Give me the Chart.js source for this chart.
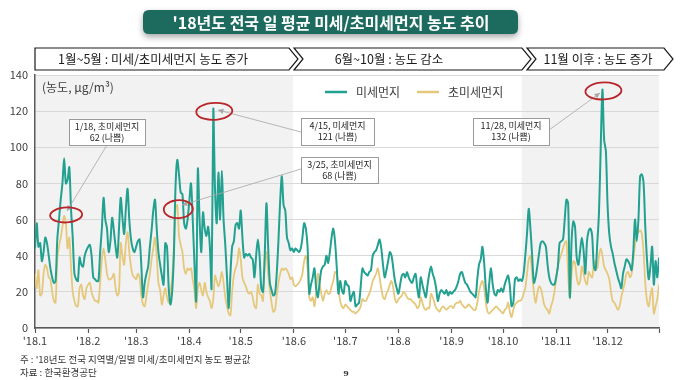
<!DOCTYPE html>
<html><head><meta charset="utf-8">
<script src="https://cdn.jsdelivr.net/npm/chart.js@4"></script>
<style>
html,body{margin:0;padding:0;background:#fff;}
canvas{display:block;}
</style></head>
<body>
<canvas id="c" width="680" height="380"></canvas>
<script>
const FONT = '"Noto Sans CJK KR", "Noto Sans", sans-serif';

// ---- data ----
const seriesNames = ['미세먼지', '초미세먼지'];
const monthLabels = ["'18.1","'18.2","'18.3","'18.4","'18.5","'18.6","'18.7","'18.8","'18.9","'18.10","'18.11","'18.12"];
const monthStartDays = [0,31,59,90,120,151,181,212,243,273,304,334];
const yTicks = [0,20,40,60,80,100,120,140];
const periodTitles = ['1월~5월 : 미세/초미세먼지 농도 증가', '6월~10월 : 농도 감소', '11월 이후 : 농도 증가'];

// daily PM10 (미세먼지), 2018-01-01 .. 2018-12-31
const pm10 = [
  /*Jan*/ 44,58,45,47,37,42,50,47,40,33,28,25,26,49,60,71,80,94,80,82,89,66,50,30,27,26,39,35,34,40,43,
  /*Feb*/ 45,46,40,28,27,26,26,42,55,72,60,55,42,48,61,54,45,39,55,72,61,52,66,77,60,49,44,42,
  /*Mar*/ 45,48,49,35,17,25,30,34,45,54,65,71,55,42,35,29,24,47,45,22,13,20,40,79,93,85,75,74,58,55,60,
  /*Apr*/ 70,80,60,36,15,88,60,42,64,55,51,56,45,22,121,77,58,86,60,87,60,46,28,11,30,45,48,57,58,55,
  /*May*/ 65,50,39,41,40,41,39,38,28,40,49,40,22,20,40,69,45,25,21,18,19,30,48,70,84,68,65,50,47,43,44,
  /*Jun*/ 42,44,43,42,44,50,58,55,45,19,24,28,33,22,17,25,32,34,35,40,36,42,50,55,48,34,19,26,21,19,
  /*Jul*/ 26,24,23,15,18,20,12,13,14,23,33,31,30,29,31,32,40,42,43,46,49,44,35,28,32,37,42,40,33,26,22,
  /*Aug*/ 19,24,29,30,28,31,28,26,25,28,30,22,17,28,24,20,17,24,30,34,30,27,22,15,19,21,20,19,21,18,20,
  /*Sep*/ 19,20,21,23,26,30,31,28,25,24,22,20,19,18,17,27,35,38,45,36,22,14,25,33,24,19,18,21,20,22,
  /*Oct*/ 20,24,27,29,23,12,14,27,28,26,27,26,30,40,52,66,55,40,25,28,34,41,47,48,47,45,35,28,25,24,24,
  /*Nov*/ 28,34,47,48,49,60,71,69,17,48,59,56,39,35,43,50,43,30,48,54,55,51,34,32,47,64,100,132,104,98,
  /*Dec*/ 68,52,45,41,36,32,28,25,22,30,34,38,37,35,32,42,60,48,60,84,85,80,56,38,27,34,45,24,37,28,39
];
// daily PM2.5 (초미세먼지)
const pm25 = [
  /*Jan*/ 30,22,32,18,19,30,35,33,28,27,20,15,14,38,45,50,56,62,58,44,50,34,20,15,12,12,22,24,18,16,22,
  /*Feb*/ 24,25,20,17,15,15,14,25,38,44,38,30,27,27,28,30,22,18,20,47,40,35,47,53,42,34,29,28,
  /*Mar*/ 27,30,28,18,13,12,18,24,30,38,44,50,40,25,21,13,18,22,17,14,20,28,45,66,68,51,46,42,33,30,33,
  /*Apr*/ 32,33,27,21,11,22,25,21,18,25,20,17,15,11,16,29,26,23,26,31,25,17,12,8,7,20,29,33,36,44,
  /*May*/ 38,28,25,23,20,19,20,17,12,11,24,19,18,15,36,42,30,21,14,9,10,18,25,30,33,32,33,32,30,27,28,
  /*Jun*/ 24,23,24,25,27,30,37,40,33,17,15,17,12,20,30,25,19,15,19,21,19,19,23,26,31,30,23,15,12,11,
  /*Jul*/ 13,12,11,10,9,9,8,9,10,12,16,15,15,17,19,22,26,28,30,33,28,22,17,16,19,21,24,26,22,16,14,
  /*Aug*/ 16,17,18,20,19,17,16,16,15,14,13,11,12,17,14,11,10,11,11,19,17,14,11,10,9,11,12,11,10,11,12,
  /*Sep*/ 12,11,13,14,14,15,13,12,11,12,13,12,11,10,10,14,20,24,26,22,14,9,8,9,10,11,12,11,10,9,
  /*Oct*/ 8,10,11,14,9,6,10,13,14,15,15,16,19,22,30,38,40,30,20,14,19,23,22,18,13,11,10,8,12,15,20,
  /*Nov*/ 27,34,38,41,44,47,48,30,16,30,37,36,28,24,26,34,30,26,24,31,29,28,35,37,33,40,44,40,34,32,
  /*Dec*/ 30,27,20,15,14,12,10,12,17,21,25,30,31,28,30,38,46,52,53,54,52,42,25,15,12,18,22,8,12,16,24
];
const seriesData = [pm10, pm25];

// highlighted days: day index, series index, date label
const callouts = [
  {day:17,  series:1, date:'1/18'},
  {day:104, series:0, date:'4/15'},
  {day:83,  series:1, date:'3/25'},
  {day:331, series:0, date:'11/28'}
];
// shaded periods (day ranges)
const shadeRanges = [[0,150.5],[284,364]];

// ---- styling / layout ----
const COLORS = ['#22a090', '#e5c87b'];
const calloutLayout = [
  {bx:69,  by:119, bw:76, bh:26, lx:107, ly:145, tx:67,  ty:211, ex:2, ey:-1, rx:16, ry:7.5},
  {bx:301, by:118, bw:73, bh:27, lx:301, ly:132, tx:218, ty:110, ex:1, ey:2,  rx:18, ry:8.5},
  {bx:301, by:157, bw:77, bh:26, lx:301, ly:169, tx:182, ty:205, ex:1, ey:4,  rx:14.5, ry:9},
  {bx:473, by:118, bw:76, bh:27, lx:549, ly:130, tx:600, ty:93,  ex:1, ey:1.5, rx:18, ry:8.5}
];

function roundRect(ctx,x,y,w,h,r){
  ctx.beginPath();
  ctx.moveTo(x+r,y); ctx.lineTo(x+w-r,y); ctx.quadraticCurveTo(x+w,y,x+w,y+r);
  ctx.lineTo(x+w,y+h-r); ctx.quadraticCurveTo(x+w,y+h,x+w-r,y+h);
  ctx.lineTo(x+r,y+h); ctx.quadraticCurveTo(x,y+h,x,y+h-r);
  ctx.lineTo(x,y+r); ctx.quadraticCurveTo(x,y,x+r,y); ctx.closePath();
}

const decor = {
  id:'decor',
  beforeDraw(chart){
    const {ctx, chartArea:a, scales:{x}} = chart;
    ctx.save();
    ctx.fillStyle = '#ffffff';
    ctx.fillRect(0,0,chart.width,chart.height);
    ctx.fillStyle = '#f2f2f2';
    shadeRanges.forEach(([s,e])=>{
      const x0 = x.getPixelForValue(s), x1 = x.getPixelForValue(e);
      ctx.fillRect(x0, a.top, x1-x0, a.bottom-a.top);
    });
    ctx.restore();
  },
  afterDraw(chart){
    const {ctx, scales:{x,y}} = chart;
    ctx.save();
    // title box
    ctx.save();
    ctx.shadowColor = 'rgba(0,0,0,0.35)'; ctx.shadowBlur = 6; ctx.shadowOffsetY = 3;
    roundRect(ctx,143,10,375,24,6);
    ctx.fillStyle = '#1d6b5e'; ctx.fill();
    ctx.restore();
    ctx.fillStyle = '#ffffff';
    ctx.font = 'bold 16px ' + FONT;
    ctx.textAlign = 'center'; ctx.textBaseline = 'middle';
    ctx.fillText("'18년도 전국 일 평균 미세/초미세먼지 농도 추이", 331, 22.5);

    // period banners (chevrons)
    const top = 48, bot = 70, mid = 59;
    const shapes = [
      [[35,top],[289,top],[298,mid],[289,bot],[35,bot]],
      [[294,top],[522,top],[531,mid],[522,bot],[294,bot],[303,mid]],
      [[527,top],[664,top],[673,mid],[664,bot],[527,bot],[536,mid]]
    ];
    const textX = [153, 389, 598];
    shapes.forEach((pts,i)=>{
      ctx.beginPath();
      pts.forEach((p,j)=> j? ctx.lineTo(p[0],p[1]) : ctx.moveTo(p[0],p[1]));
      ctx.closePath();
      ctx.fillStyle = '#ffffff'; ctx.fill();
      ctx.lineWidth = 1.2; ctx.strokeStyle = '#1a1a1a'; ctx.stroke();
      ctx.fillStyle = '#1a1a1a';
      ctx.font = '12.5px ' + FONT;
      ctx.fillText(periodTitles[i], textX[i], mid+0.5);
    });

    // unit label
    ctx.textAlign = 'left';
    ctx.fillStyle = '#404040';
    ctx.font = '12px ' + FONT;
    ctx.fillText('(농도, μg/m³)', 42, 87);

    // legend
    const legX = [325, 417];
    chart.data.datasets.forEach((ds,i)=>{
      ctx.strokeStyle = ds.borderColor; ctx.lineWidth = 2.5;
      ctx.beginPath(); ctx.moveTo(legX[i],92); ctx.lineTo(legX[i]+22,92); ctx.stroke();
      ctx.fillStyle = '#404040'; ctx.font = '12px ' + FONT;
      ctx.fillText(ds.label, legX[i]+31, 92);
    });

    // callouts
    callouts.forEach((c,i)=>{
      const L = calloutLayout[i];
      const v = seriesData[c.series][c.day];
      const px = x.getPixelForValue(c.day), py = y.getPixelForValue(v);
      // leader line
      ctx.strokeStyle = '#a6a6a6'; ctx.lineWidth = 0.8;
      ctx.beginPath(); ctx.moveTo(L.lx, L.ly); ctx.lineTo(L.tx, L.ty); ctx.stroke();
      const ang = Math.atan2(L.ty-L.ly, L.tx-L.lx);
      ctx.fillStyle = '#a6a6a6';
      ctx.beginPath();
      ctx.moveTo(L.tx, L.ty);
      ctx.lineTo(L.tx - 6*Math.cos(ang-0.45), L.ty - 6*Math.sin(ang-0.45));
      ctx.lineTo(L.tx - 6*Math.cos(ang+0.45), L.ty - 6*Math.sin(ang+0.45));
      ctx.closePath(); ctx.fill();
      // red hand-drawn ellipse
      ctx.strokeStyle = '#b8262b'; ctx.lineWidth = 1.8;
      ctx.beginPath();
      ctx.ellipse(px+L.ex, py+L.ey, L.rx, L.ry, -0.05, Math.PI*0.95, Math.PI*3.05);
      ctx.stroke();
      // box
      ctx.fillStyle = '#ffffff'; ctx.fillRect(L.bx, L.by, L.bw, L.bh);
      ctx.strokeStyle = '#9a9a9a'; ctx.lineWidth = 1;
      ctx.strokeRect(L.bx+0.5, L.by+0.5, L.bw, L.bh);
      ctx.fillStyle = '#262626'; ctx.font = '9px ' + FONT; ctx.textAlign = 'center';
      ctx.fillText(c.date + ', ' + seriesNames[c.series], L.bx + L.bw/2, L.by + 8);
      ctx.fillText(v + ' (나쁨)', L.bx + L.bw/2, L.by + 19);
      ctx.textAlign = 'left';
    });

    // footnotes
    ctx.fillStyle = '#333333'; ctx.font = '9.5px ' + FONT; ctx.textAlign = 'left';
    ctx.fillText("주 : '18년도 전국 지역별/일별 미세/초미세먼지 농도 평균값", 20, 359);
    ctx.fillText('자료 : 한국환경공단', 20, 372);
    ctx.font = 'bold 8px "DejaVu Serif", serif'; ctx.textAlign = 'center';
    ctx.fillText('9', 346, 374);
    ctx.restore();
  }
};

new Chart(document.getElementById('c').getContext('2d'), {
  type: 'line',
  data: {
    datasets: seriesNames.map((name,i)=>({
      label: name,
      data: seriesData[i].map((v,d)=>({x:d, y:v})),
      borderColor: COLORS[i],
      backgroundColor: COLORS[i],
      borderWidth: i===0 ? 2 : 1.8,
      pointRadius: 0,
      tension: 0.3,
      fill: false
    }))
  },
  options: {
    responsive: false,
    animation: false,
    devicePixelRatio: 1,
    layout: { padding: { left: 0, right: 21, top: 75, bottom: 0 } },
    plugins: { legend: { display: false }, tooltip: { enabled: false } },
    scales: {
      x: {
        type: 'linear', min: 0, max: 364,
        afterBuildTicks: s => { s.ticks = monthStartDays.map(v=>({value:v})).concat([{value:364}]); },
        ticks: {
          autoSkip: false, maxRotation: 0, padding: 1,
          color: '#404040', font: { family: FONT, size: 11 },
          callback: v => { const i = monthStartDays.indexOf(v); return i >= 0 ? monthLabels[i] : ''; }
        },
        grid: { drawOnChartArea: false, tickLength: 5, color: '#595959', tickWidth: 1.2 },
        border: { color: '#595959', width: 1.5 },
        afterFit: s => { s.height = 52; }
      },
      y: {
        min: 0, max: 140,
        afterBuildTicks: s => { s.ticks = yTicks.map(v=>({value:v})); },
        ticks: { padding: 7, color: '#404040', font: { family: FONT, size: 11 } },
        grid: { color: '#d9d9d9', drawTicks: false, lineWidth: 1 },
        border: { color: '#595959', width: 1.5 },
        afterFit: s => { s.width = 35; }
      }
    }
  },
  plugins: [decor]
});
</script>
</body></html>
